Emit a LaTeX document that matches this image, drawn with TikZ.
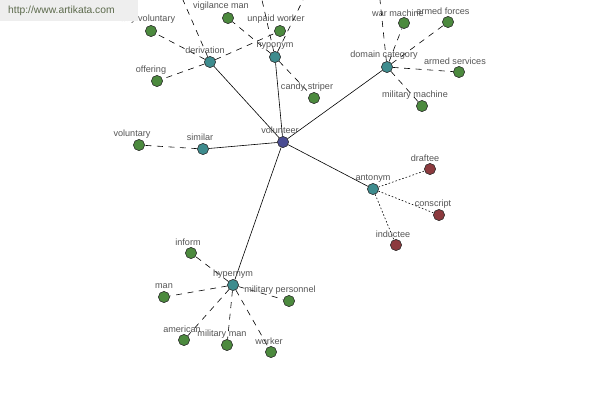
\documentclass[tikz,border=0pt]{standalone}
\usepackage{fontspec}
\setmainfont{Liberation Sans}
\begin{document}
\begin{tikzpicture}[x=1pt,y=-1pt,
  dot/.style={circle,draw=black!80,line width=0.5pt,minimum size=11pt,inner sep=0pt},
  leaf/.style={dot,fill=leafgreen},
  rel/.style={dot,fill=relteal},
  root/.style={dot,fill=rootblue},
  anti/.style={dot,fill=antired},
  lbl/.style={text=txtgray,font=\fontsize{9.1}{10}\selectfont,inner sep=0pt},
  solidedge/.style={draw=black,line width=0.6pt},
  dashedge/.style={draw=black,line width=0.6pt,dash pattern=on 6pt off 5.5pt},
  dotedge/.style={draw=black,line width=0.6pt,dash pattern=on 1.6pt off 2pt}]
\definecolor{leafgreen}{HTML}{4C8A3E}
\definecolor{relteal}{HTML}{3E8C8E}
\definecolor{rootblue}{HTML}{4A4C92}
\definecolor{antired}{HTML}{8C3A3E}
\definecolor{txtgray}{HTML}{555555}
\definecolor{wmbg}{HTML}{EEEEEE}
\definecolor{wmtext}{HTML}{5C6A4C}
\useasboundingbox (0,0) rectangle (600,400);
\fill[white] (0,0) rectangle (600,400);
% node positions
\coordinate (pvol) at (283,142);
\coordinate (pder) at (210,62);
\coordinate (phyo) at (275,57);
\coordinate (pdom) at (387,67);
\coordinate (psim) at (203,149);
\coordinate (pant) at (373,189);
\coordinate (phyp) at (233,285);
\coordinate (off1) at (183,0);
\coordinate (off2) at (262,0);
\coordinate (off3) at (303,0);
\coordinate (off4) at (380,0);
% nodes
\node[root] (volunteer) at (pvol) {};
\node[rel] (derivation) at (pder) {};
\node[rel] (hyponym) at (phyo) {};
\node[rel] (domain) at (pdom) {};
\node[rel] (similar) at (psim) {};
\node[rel] (antonym) at (pant) {};
\node[rel] (hypernym) at (phyp) {};
\node[leaf] (milvol) at (151,31) {};
\node[leaf] (offering) at (157,81) {};
\node[leaf] (vigilance) at (228,18) {};
\node[leaf] (unpaid) at (280,31) {};
\node[leaf] (candy) at (314,98) {};
\node[leaf] (warmach) at (404,23) {};
\node[leaf] (armedf) at (448,22) {};
\node[leaf] (armeds) at (459,72) {};
\node[leaf] (milmach) at (422,106) {};
\node[leaf] (voluntary) at (139,145) {};
\node[anti] (draftee) at (430,169) {};
\node[anti] (conscript) at (439,215) {};
\node[anti] (inductee) at (396,245) {};
\node[leaf] (inform) at (191,253) {};
\node[leaf] (man) at (164,297) {};
\node[leaf] (milpers) at (289,301) {};
\node[leaf] (american) at (184,340) {};
\node[leaf] (milman) at (227,345) {};
\node[leaf] (worker) at (271,352) {};
% edges
\path[solidedge] (volunteer) -- (derivation);
\path[solidedge] (volunteer) -- (hyponym);
\path[solidedge] (volunteer) -- (domain);
\path[solidedge] (volunteer) -- (similar);
\path[solidedge] (volunteer) -- (antonym);
\path[solidedge] (volunteer) -- (hypernym);
\path[dashedge] (derivation) -- (milvol);
\path[dashedge] (derivation) -- (offering);
\path[dashedge] (derivation) -- (off1);
\path[dashedge] (derivation) -- (unpaid);
\path[dashedge] (hyponym) -- (vigilance);
\path[dashedge] (hyponym) -- (candy);
\path[dashedge] (hyponym) -- (off2);
\path[dashedge] (hyponym) -- (off3);
\path[dashedge] (domain) -- (warmach);
\path[dashedge] (domain) -- (armedf);
\path[dashedge] (domain) -- (armeds);
\path[dashedge] (domain) -- (milmach);
\path[dashedge] (domain) -- (off4);
\path[dashedge] (similar) -- (voluntary);
\path[dotedge] (antonym) -- (draftee);
\path[dotedge] (antonym) -- (conscript);
\path[dotedge] (antonym) -- (inductee);
\path[dashedge] (hypernym) -- (inform);
\path[dashedge] (hypernym) -- (man);
\path[dashedge] (hypernym) -- (milpers);
\path[dashedge] (hypernym) -- (american);
\path[dashedge] (hypernym) -- (milman);
\path[dashedge] (hypernym) -- (worker);
% redraw nodes on top of edges
\foreach \n/\s in {volunteer/root,derivation/rel,hyponym/rel,domain/rel,similar/rel,antonym/rel,hypernym/rel,
  milvol/leaf,offering/leaf,vigilance/leaf,unpaid/leaf,candy/leaf,warmach/leaf,armedf/leaf,armeds/leaf,milmach/leaf,
  voluntary/leaf,draftee/anti,conscript/anti,inductee/anti,inform/leaf,man/leaf,milpers/leaf,american/leaf,milman/leaf,worker/leaf}
  {\node[\s] at (\n) {};}
% labels
\node[lbl] (tvolunteer) at (280,130) {volunteer};
\node[lbl] (tderivation) at (205,50) {derivation};
\node[lbl] (thyponym) at (275,45) {hyponym};
\node[lbl] (tdomain) at (384,55) {domain category};
\node[lbl] (tsimilar) at (200,137) {similar};
\node[lbl] (tantonym) at (373,178) {antonym};
\node[lbl] (thypernym) at (233,274) {hypernym};
\node[lbl] (tmilvol) at (141,19) {military voluntary};
\node[lbl] (toffering) at (151,70) {offering};
\node[lbl] (tvigilance) at (221,6) {vigilance man};
\node[lbl] (tunpaid) at (276,19) {unpaid worker};
\node[lbl] (tcandy) at (307,87) {candy striper};
\node[lbl] (twarmach) at (398,13) {war machine};
\node[lbl] (tarmedf) at (443,11) {armed forces};
\node[lbl] (tarmeds) at (455,61) {armed services};
\node[lbl] (tmilmach) at (415,95) {military machine};
\node[lbl] (tvoluntary) at (132,134) {voluntary};
\node[lbl] (tdraftee) at (425,158) {draftee};
\node[lbl] (tconscript) at (433,204) {conscript};
\node[lbl] (tinductee) at (393,234) {inductee};
\node[lbl] (tinform) at (188,242) {inform};
\node[lbl] (tman) at (164,286) {man};
\node[lbl] (tmilpers) at (280,290) {military personnel};
\node[lbl] (tamerican) at (182,329) {american};
\node[lbl] (tmilman) at (222,334) {military man};
\node[lbl] (tworker) at (269,341) {worker};
% watermark
\fill[wmbg] (0,0) rectangle (138,21);
\node[text=wmtext,font=\fontsize{10.3}{12}\selectfont,anchor=west,inner sep=0pt] (wm) at (8,11) {http://www.artikata.com};
\end{tikzpicture}
\end{document}
